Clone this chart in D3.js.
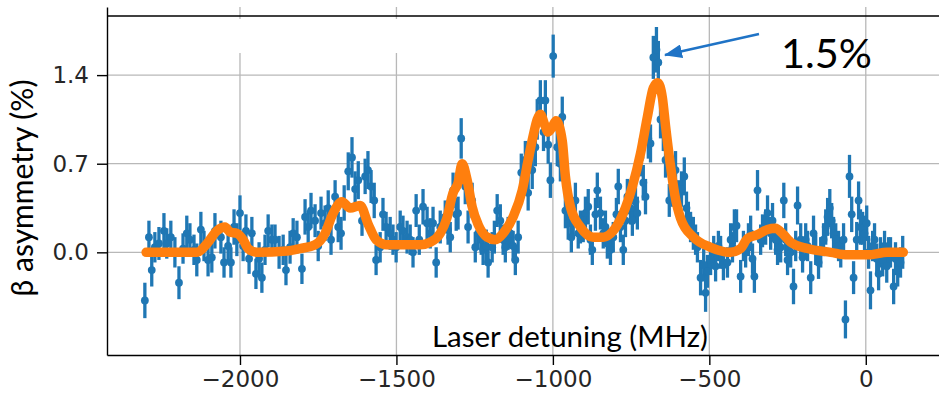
<!DOCTYPE html>
<html>
<head>
<meta charset="utf-8">
<script src="https://d3js.org/d3.v7.min.js"></script>
<style>
  body { margin: 0; background: #fff; }
  svg { display: block; }
</style>
</head>
<body>
<div class="areaGrafica"></div>
<script>
// measured points: detuning (MHz), beta asymmetry (%), error bar (%)
const freq = [
  -2304,-2291,-2282,-2272,-2259,-2243,-2234,-2221,-2208,-2195,
  -2182,-2170,-2160,-2147,-2138,-2125,-2115,-2102,-2090,-2080,
  -2061,-2051,-2038,-2029,-2019,-2010,-2000,-1990,-1981,-1971,
  -1962,-1949,-1939,-1930,-1920,-1910,-1898,-1888,-1875,-1862,
  -1853,-1840,-1830,-1818,-1802,-1792,-1782,-1773,-1760,-1750,
  -1741,-1728,-1718,-1709,-1696,-1686,-1677,-1667,-1654,-1642,
  -1632,-1622,-1610,-1600,-1591,-1581,-1571,-1565,-1552,-1543,
  -1533,-1520,-1511,-1501,-1488,-1479,-1466,-1456,-1447,-1437,
  -1427,-1415,-1402,-1392,-1383,-1373,-1360,-1344,-1335,-1328,
  -1319,-1309,-1303,-1293,-1280,-1271,-1258,-1248,-1239,-1229,
  -1223,-1213,-1207,-1194,-1187,-1178,-1168,-1159,-1152,-1143,
  -1136,-1127,-1120,-1111,-1101,-1088,-1079,-1066,-1056,-1050,
  -1040,-1030,-1024,-1015,-1008,-999,-986,-976,-970,-960,
  -951,-941,-935,-928,-919,-912,-903,-896,-887,-880,
  -874,-864,-858,-848,-839,-832,-826,-816,-807,-797,
  -791,-784,-775,-768,-762,-752,-746,-736,-730,-720,
  -711,-704,-695,-688,-679,-669,-663,-656,-647,-640,
  -628,-618,-608,-599,-589,-580,-573,-567,-560,-551,
  -544,-538,-528,-518,-512,-506,-496,-486,-480,-471,
  -464,-455,-442,-432,-426,-420,-413,-400,-391,-384,
  -375,-368,-362,-356,-346,-336,-330,-320,-314,-304,
  -298,-288,-282,-272,-262,-256,-250,-240,-231,-224,
  -218,-208,-202,-192,-186,-176,-167,-160,-151,-144,
  -135,-128,-122,-115,-109,-103,-96,-87,-80,-71,
  -65,-52,-45,-39,-29,-23,-17,-10,-4,3,
  9,15,22,28,35,41,47,54,60,67,
  73,79,89,95,102,111,118
];
const asym = [
  -0.38,0.12,-0.14,0.04,0.07,0.17,0.07,0.12,0.0,-0.24,
  0.03,0.15,0.1,0.02,-0.06,0.18,0.05,-0.06,-0.04,0.17,
  0.12,-0.08,0.05,-0.08,0.2,0.1,0.31,0.05,0.17,-0.05,
  0.15,-0.17,-0.05,-0.2,0.02,0.17,0.1,0.1,0.0,0.02,
  -0.14,0.04,0.15,0.12,-0.13,0.28,0.2,0.33,0.25,0.05,
  0.31,0.23,0.35,0.1,0.44,0.2,0.15,0.39,0.64,0.75,
  0.5,0.57,0.25,0.6,0.65,0.52,0.41,-0.06,0.04,0.3,
  0.2,0.15,0.1,0.04,0.2,0.17,0.12,0.1,0.0,0.33,
  0.1,0.36,0.23,0.15,0.23,-0.08,0.2,0.28,0.18,0.12,
  0.49,0.3,0.31,0.9,0.52,0.2,0.41,0.04,0.15,0.1,
  0.02,0.05,-0.08,0.04,0.12,0.33,0.25,0.1,0.04,0.15,
  0.15,0.05,-0.06,0.12,0.63,0.73,0.47,0.65,0.83,1.05,
  1.2,0.95,1.2,0.85,0.57,1.55,0.83,0.7,1.07,0.33,
  0.23,0.12,0.25,0.41,0.15,0.2,0.2,0.31,0.36,0.1,
  0.02,0.3,0.49,0.31,0.15,0.2,0.07,0.02,0.12,0.3,
  0.52,0.2,0.02,0.25,0.44,0.35,0.25,0.4,0.31,0.75,
  0.55,0.44,0.9,0.86,1.54,1.6,1.5,1.05,0.95,0.73,
  0.41,0.5,0.65,0.44,0.5,0.6,0.35,0.28,0.2,0.15,
  0.1,0.04,-0.2,-0.1,-0.32,-0.15,-0.06,0.0,-0.11,0.05,
  0.0,-0.1,-0.08,0.1,0.04,0.2,0.21,-0.19,0.05,0.0,
  0.1,0.15,-0.05,-0.19,0.49,0.1,0.17,0.2,0.31,0.15,
  0.25,0.1,0.02,0.04,0.41,0.1,-0.06,0.0,-0.27,0.05,
  0.37,0.1,-0.04,0.1,0.05,-0.2,0.15,0.02,-0.08,0.0,
  0.1,0.2,0.28,0.35,0.25,0.15,0.1,0.05,0.0,0.1,
  -0.53,0.6,0.3,-0.2,0.1,0.41,0.2,0.19,0.15,0.23,
  0.0,-0.3,0.05,0.1,-0.05,-0.17,0.0,-0.06,0.05,-0.11,
  0.0,0.0,-0.27,-0.05,-0.14,-0.08,0.0
];
const err = [
  0.14,0.13,0.13,0.12,0.13,0.14,0.12,0.13,0.12,0.13,
  0.12,0.14,0.13,0.12,0.13,0.14,0.12,0.13,0.12,0.14,
  0.13,0.12,0.13,0.12,0.14,0.13,0.14,0.12,0.13,0.12,
  0.13,0.12,0.13,0.12,0.12,0.13,0.12,0.12,0.13,0.12,
  0.12,0.13,0.12,0.13,0.12,0.14,0.13,0.14,0.13,0.12,
  0.13,0.14,0.14,0.12,0.13,0.12,0.13,0.14,0.15,0.16,
  0.14,0.15,0.12,0.14,0.15,0.13,0.14,0.12,0.12,0.13,
  0.12,0.13,0.12,0.12,0.13,0.12,0.13,0.12,0.12,0.13,
  0.12,0.14,0.13,0.12,0.13,0.12,0.13,0.13,0.12,0.12,
  0.14,0.13,0.13,0.16,0.14,0.13,0.14,0.12,0.13,0.12,
  0.12,0.13,0.12,0.12,0.13,0.13,0.13,0.12,0.12,0.13,
  0.12,0.12,0.12,0.13,0.15,0.15,0.14,0.15,0.15,0.16,
  0.16,0.15,0.16,0.15,0.14,0.17,0.15,0.14,0.16,0.14,
  0.13,0.12,0.13,0.14,0.12,0.13,0.12,0.13,0.14,0.12,
  0.12,0.13,0.14,0.13,0.12,0.13,0.12,0.12,0.12,0.13,
  0.14,0.12,0.12,0.13,0.14,0.13,0.12,0.14,0.13,0.15,
  0.14,0.14,0.16,0.15,0.17,0.18,0.17,0.15,0.15,0.14,
  0.13,0.14,0.15,0.13,0.14,0.15,0.13,0.12,0.12,0.13,
  0.12,0.12,0.14,0.13,0.15,0.13,0.12,0.13,0.12,0.12,
  0.13,0.12,0.12,0.13,0.12,0.14,0.13,0.13,0.12,0.12,
  0.13,0.14,0.12,0.13,0.16,0.12,0.13,0.14,0.14,0.13,
  0.14,0.12,0.12,0.12,0.14,0.13,0.12,0.12,0.14,0.12,
  0.15,0.13,0.12,0.13,0.12,0.13,0.14,0.12,0.13,0.12,
  0.13,0.14,0.15,0.15,0.14,0.13,0.13,0.12,0.12,0.13,
  0.15,0.17,0.14,0.13,0.14,0.15,0.14,0.13,0.14,0.14,
  0.13,0.15,0.12,0.13,0.12,0.13,0.12,0.13,0.12,0.13,
  0.12,0.12,0.14,0.13,0.13,0.12,0.13
];

// fitted curve
const fitFreq = [
  -2300,-2200,-2137,-2105,-2074,-2048,-2032,-2010,-1990,-1974,-1946,
  -1850,-1808,-1760,-1728,-1704,-1674,-1648,-1616,-1590,-1565,-1530,
  -1488,-1424,-1392,-1360,-1340,-1319,-1303,-1290,-1274,-1258,-1239,
  -1210,-1184,-1159,-1127,-1098,-1079,-1063,-1050,-1040,-1025,-1015,
  -1000,-990,-970,-960,-944,-912,-871,-839,-807,-775,-746,-720,-698,
  -679,-665,-650,-640,-625,-610,-592,-551,-496,-432,-400,-378,-346,
  -314,-289,-263,-240,-186,-112,-58,6,70,120
];
const fitVal = [
  0.0,0.0,0.0,0.07,0.17,0.2,0.16,0.15,0.1,0.03,0.0,
  0.01,0.03,0.06,0.15,0.3,0.4,0.35,0.37,0.22,0.1,0.06,
  0.06,0.06,0.08,0.15,0.26,0.47,0.55,0.7,0.57,0.36,0.22,
  0.12,0.1,0.15,0.28,0.49,0.73,0.92,1.05,1.09,1.0,0.95,
  1.0,1.04,0.88,0.6,0.36,0.2,0.12,0.12,0.17,0.31,0.52,0.78,1.07,
  1.3,1.34,1.22,1.0,0.7,0.45,0.27,0.12,0.04,0.0,0.03,0.11,0.14,
  0.18,0.19,0.14,0.08,0.03,0.0,-0.02,-0.02,0.0,0.0
];

const xTicks = [-2000, -1500, -1000, -500, 0];
const yTicks = [0.0, 0.7, 1.4];

const w = 939, h = 398;
const margen = { izq: 107, der: 939, arr: 7, abj: 355 };
const azul = '#1f77b4', naranja = '#ff7f0e';

let xScale = d3.scaleLinear()
  .domain([-2425, 234])
  .range([margen.izq, margen.der]);

let yScale = d3.scaleLinear()
  .domain([-0.811, 1.938])
  .range([margen.abj, margen.arr]);

let svg = d3.select('.areaGrafica')
  .append('svg')
  .attr('width', w)
  .attr('height', h);

// grid
svg.append('g').selectAll('line')
  .data(xTicks)
  .enter().append('line')
  .attr('x1', d => xScale(d)).attr('x2', d => xScale(d))
  .attr('y1', margen.arr).attr('y2', margen.abj)
  .attr('stroke', '#b8b8b8').attr('stroke-width', 1.3);

svg.append('g').selectAll('line')
  .data(yTicks)
  .enter().append('line')
  .attr('x1', margen.izq).attr('x2', margen.der)
  .attr('y1', d => yScale(d)).attr('y2', d => yScale(d))
  .attr('stroke', '#b8b8b8').attr('stroke-width', 1.3);

// blank patch over the grid near the top (as in the source image)
svg.append('rect')
  .attr('x', margen.izq + 1).attr('y', 19)
  .attr('width', 400).attr('height', 34)
  .attr('fill', '#fff');

let puntos = freq.map((f, i) => ({ f: f, a: asym[i], e: err[i] }));

svg.append('g').selectAll('line')
  .data(puntos)
  .enter().append('line')
  .attr('x1', d => xScale(d.f)).attr('x2', d => xScale(d.f))
  .attr('y1', d => yScale(d.a - d.e)).attr('y2', d => yScale(d.a + d.e))
  .attr('stroke', azul).attr('stroke-width', 3.3);

svg.append('g').selectAll('circle')
  .data(puntos)
  .enter().append('circle')
  .attr('cx', d => xScale(d.f))
  .attr('cy', d => yScale(d.a))
  .attr('r', 3.9)
  .attr('fill', azul);

let linea = d3.line()
  .x(d => xScale(d[0]))
  .y(d => yScale(d[1]))
  .curve(d3.curveMonotoneX);

svg.append('path')
  .datum(fitFreq.map((f, i) => [f, fitVal[i]]))
  .attr('d', linea)
  .attr('fill', 'none')
  .attr('stroke', naranja)
  .attr('stroke-width', 9.5)
  .attr('stroke-linecap', 'round')
  .attr('stroke-linejoin', 'round');

// axes
let yAxis = d3.axisLeft(yScale)
  .tickValues(yTicks)
  .tickFormat(d3.format('.1f'))
  .tickSize(10).tickPadding(8).tickSizeOuter(0);

let gY = svg.append('g')
  .attr('transform', 'translate(' + margen.izq + ',0)')
  .call(yAxis);

let xAxis = d3.axisBottom(xScale)
  .tickValues(xTicks)
  .tickFormat(d3.format('d'))
  .tickSize(10).tickPadding(6).tickSizeOuter(0);

let gX = svg.append('g')
  .attr('transform', 'translate(0,' + margen.abj + ')')
  .call(xAxis);

[gX, gY].forEach(g => {
  g.select('.domain').attr('stroke', '#000').attr('stroke-width', 1.4);
  g.selectAll('.tick line').attr('stroke', '#000').attr('stroke-width', 1.4);
  g.selectAll('.tick text')
    .attr('fill', '#262626')
    .style('font-family', '"DejaVu Sans", sans-serif')
    .style('font-size', '23px');
});

// top border line
svg.append('line')
  .attr('x1', margen.izq).attr('x2', margen.der)
  .attr('y1', 16).attr('y2', 16)
  .attr('stroke', '#000').attr('stroke-width', 1.5);

function ajustar(sel, ancho) {
  let fs = parseFloat(sel.attr('font-size'));
  let real = sel.node().getComputedTextLength();
  if (real > 0) sel.attr('font-size', fs * ancho / real);
}

let tX = svg.append('text')
  .attr('x', 432).attr('y', 347)
  .attr('font-family', 'Lato, "Open Sans", sans-serif')
  .attr('font-size', 25)
  .attr('fill', '#000')
  .text('Laser detuning (MHz)');
ajustar(tX, 276);

let tY = svg.append('text')
  .attr('transform', 'translate(33,188) rotate(-90)')
  .attr('text-anchor', 'middle')
  .attr('font-family', 'Lato, "Open Sans", sans-serif')
  .attr('font-size', 26)
  .attr('fill', '#000')
  .text('β asymmetry (%)');
ajustar(tY, 217);

// annotation
let defs = svg.append('defs');
defs.append('marker')
  .attr('id', 'punta')
  .attr('markerUnits', 'userSpaceOnUse')
  .attr('viewBox', '0 0 18 14')
  .attr('refX', 17).attr('refY', 7)
  .attr('markerWidth', 18).attr('markerHeight', 14)
  .attr('orient', 'auto')
  .append('path')
  .attr('d', 'M0,0 L18,7 L0,14 Z')
  .attr('fill', '#1f73c6');

svg.append('line')
  .attr('x1', 759).attr('y1', 34)
  .attr('x2', 665).attr('y2', 55)
  .attr('stroke', '#1f73c6')
  .attr('stroke-width', 2.5)
  .attr('marker-end', 'url(#punta)');

let tP = svg.append('text')
  .attr('x', 781).attr('y', 68)
  .attr('font-family', 'Lato, "Open Sans", sans-serif')
  .attr('font-size', 40)
  .attr('fill', '#000')
  .text('1.5%');
ajustar(tP, 91);
</script>
</body>
</html>
